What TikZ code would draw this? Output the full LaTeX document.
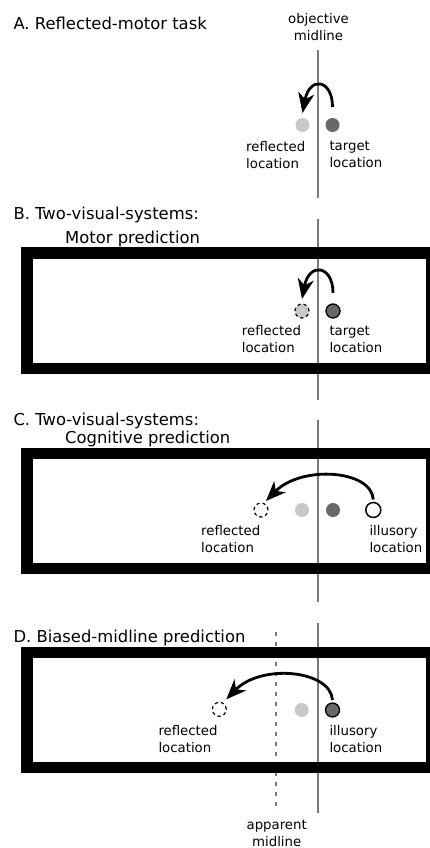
\documentclass[tikz,border=0pt]{standalone}
\usepackage{fontspec}
\setmainfont{DejaVu Sans}
\usetikzlibrary{arrows.meta}
\definecolor{midgray}{HTML}{7A7A7A}
\definecolor{lightdot}{HTML}{C8C8C8}
\definecolor{darkdot}{HTML}{686868}
\begin{document}
\begin{tikzpicture}[x=1pt,y=-1pt,
  title/.style={anchor=base west, inner sep=0, font=\fontsize{16.4}{19}\selectfont},
  lbl/.style={anchor=north west, inner sep=0, align=left, font=\fontsize{13.3}{17}\selectfont},
  clbl/.style={anchor=north, inner sep=0, align=center, font=\fontsize{13.3}{17}\selectfont},
  dot/.style={circle, inner sep=0, outer sep=0, minimum size=14pt},
  lightd/.style={dot, fill=lightdot},
  darkd/.style={dot, fill=darkdot},
  darkod/.style={dot, fill=darkdot, draw=black, line width=1.3pt},
  ghost/.style={dot, draw=black, line width=1.2pt, dash pattern=on 3.2pt off 3pt},
  ghostl/.style={ghost, fill=lightdot},
  openc/.style={dot, fill=white, draw=black, line width=1.5pt, minimum size=15pt},
  midl/.style={draw=midgray, line width=1.8pt},
  appl/.style={draw=midgray, line width=1.5pt, dash pattern=on 4pt off 6pt},
  frame/.style={draw=black, line width=11.5pt},
  arr/.style={draw=black, line width=2.8pt, -{Stealth[length=20pt,width=16pt,inset=6pt]}}
]
\useasboundingbox (0,0) rectangle (430,848);
\clip (0,0) rectangle (430,848);
\fill[white] (0,0) rectangle (430,848);

% objective midline segments
\draw[midl] (318.3,50) -- (318.3,198.3);
\draw[midl] (318.3,219.3) -- (318.3,400);
\draw[midl] (318.3,420) -- (318.3,601.7);
\draw[midl] (318.3,623.3) -- (318.3,812.7);
% apparent midline
\draw[appl] (276,632) -- (276,812);

% frames
\draw[frame] (27,253) rectangle (431.8,368.5);
\draw[frame] (27,453.5) rectangle (431.8,568.5);
\draw[frame] (27,652.5) rectangle (431.8,767.5);

% titles
\node[title] (tA) at (13.3,30) {A. Reflected-motor task};
\node[title] (tB1) at (13.3,219.3) {B. Two-visual-systems:};
\node[title] (tB2) at (65,243.3) {Motor prediction};
\node[title] (tC1) at (13.3,425) {C. Two-visual-systems:};
\node[title] (tC2) at (65,443.3) {Cognitive prediction};
\node[title] (tD) at (13.3,642.7) {D. Biased-midline prediction};

\node[clbl] (obj) at (318.5,13.3) {\rule{0pt}{10pt}objective\\midline};
\node[clbl] (app) at (276.7,819) {\rule{0pt}{10pt}apparent\\midline};

% panel A
\node[lightd] (refA) at (302.5,125) {};
\node[darkd] (tgtA) at (332.5,125) {};
\node[lbl] (lrefA) at (246,140.7) {\rule{0pt}{10pt}reflected\\location};
\node[lbl] (ltgtA) at (329.3,140.7) {\rule{0pt}{10pt}target\\location};
\draw[arr] ([yshift=11pt]tgtA.north) .. controls +(0,-28) and +(7,-37) .. ([yshift=5pt]refA.north);

% panel B
\node[ghostl] (refB) at (302,311) {};
\node[darkod] (tgtB) at (333,311) {};
\node[lbl] (lrefB) at (241.7,325) {\rule{0pt}{10pt}reflected\\location};
\node[lbl] (ltgtB) at (329.3,325) {\rule{0pt}{10pt}target\\location};
\draw[arr] ([yshift=11pt]tgtB.north) .. controls +(0,-28) and +(7,-37) .. ([yshift=5pt]refB.north);

% panel C
\node[ghost] (refC) at (261,510) {};
\node[lightd] (lgtC) at (302,510) {};
\node[darkd] (tgtC) at (333,510) {};
\node[openc] (illC) at (373.3,510) {};
\node[lbl] (lrefC) at (201,525) {\rule{0pt}{10pt}reflected\\location};
\node[lbl] (lillC) at (369.3,525) {\rule{0pt}{10pt}illusory\\location};
\draw[arr] ([yshift=3pt]illC.north) .. controls +(-2,-30) and +(35,-36) .. ([xshift=0pt,yshift=4pt]refC.north east);

% panel D
\node[ghost] (refD) at (219.3,709.3) {};
\node[lightd] (lgtD) at (301.7,710) {};
\node[darkod] (illD) at (332.5,710) {};
\node[lbl] (lrefD) at (158.3,725) {\rule{0pt}{10pt}reflected\\location};
\node[lbl] (lillD) at (329.3,725) {\rule{0pt}{10pt}illusory\\location};
\draw[arr] ([yshift=3pt]illD.north) .. controls +(-2,-30) and +(35,-36) .. ([xshift=2pt,yshift=5pt]refD.north east);
\end{tikzpicture}
\end{document}
